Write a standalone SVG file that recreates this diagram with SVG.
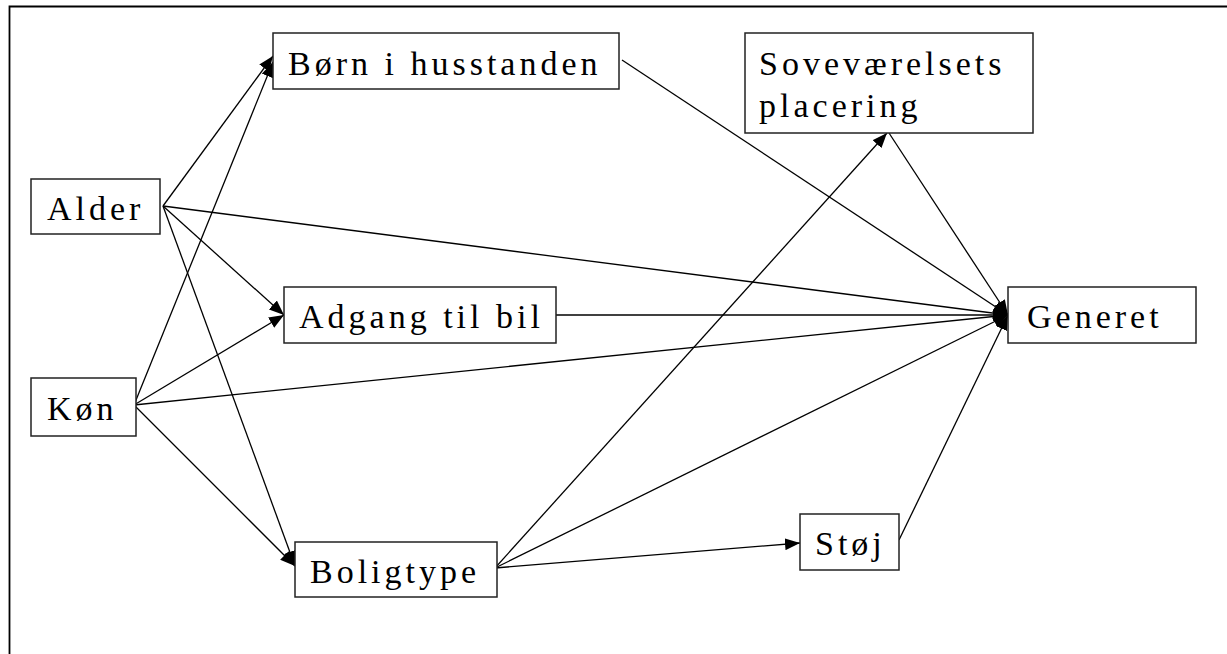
<svg xmlns="http://www.w3.org/2000/svg" width="1227" height="654" viewBox="0 0 1227 654">
<style>
.box{fill:#fff;stroke:#222;stroke-width:1.5}
.lbl{font-family:'Liberation Serif','Times New Roman',serif;font-size:34px;letter-spacing:4px;fill:#000}
.edge{stroke:#000;stroke-width:1.3;fill:none}
.arr{marker-end:url(#ah)}
</style>
<defs>
<marker id="ah" markerUnits="userSpaceOnUse" markerWidth="16" markerHeight="12" refX="15" refY="6" orient="auto">
<path d="M0,0 L15,6 L0,12 Z" fill="#000"/>
</marker>
</defs>
<rect width="1227" height="654" fill="#fff"/>
<path d="M9.5,654 V6.5 H1227" fill="none" stroke="#000" stroke-width="1.8"/>
<g id="connectors">
<line class="edge arr" x1="163" y1="206" x2="273" y2="56"/>
<line class="edge arr" x1="134" y1="405" x2="273" y2="62"/>
<line class="edge arr" x1="163" y1="206" x2="284" y2="315"/>
<line class="edge arr" x1="134" y1="405" x2="284" y2="315"/>
<line class="edge arr" x1="163" y1="206" x2="295" y2="566"/>
<line class="edge arr" x1="134" y1="405" x2="295" y2="566"/>
<line class="edge arr" x1="163" y1="206" x2="1008" y2="315"/>
<line class="edge arr" x1="134" y1="405" x2="1008" y2="315"/>
<line class="edge arr" x1="556" y1="315" x2="1008" y2="315"/>
<line class="edge arr" x1="622" y1="60" x2="1008" y2="315"/>
<line class="edge arr" x1="495" y1="568" x2="887" y2="133"/>
<line class="edge arr" x1="889" y1="133" x2="1008" y2="315"/>
<line class="edge arr" x1="495" y1="568" x2="1008" y2="315"/>
<line class="edge arr" x1="495" y1="568" x2="800" y2="543"/>
<line class="edge arr" x1="899" y1="540" x2="1008" y2="315"/>
</g>
<g id="node-born">
<rect class="box" x="273" y="33" width="346" height="56"/>
<text class="lbl" x="288" y="75">Børn i husstanden</text>
</g>
<g id="node-sovevaerelse">
<rect class="box" x="745" y="33" width="288" height="100"/>
<text class="lbl" x="759" y="75">Soveværelsets</text>
<text class="lbl" x="759" y="117">placering</text>
</g>
<g id="node-alder">
<rect class="box" x="31" y="179" width="129" height="55"/>
<text class="lbl" x="47" y="220">Alder</text>
</g>
<g id="node-adgang">
<rect class="box" x="284" y="287" width="272" height="56"/>
<text class="lbl" x="299" y="328">Adgang til bil</text>
</g>
<g id="node-generet">
<rect class="box" x="1008" y="287" width="188" height="56"/>
<text class="lbl" x="1027" y="328">Generet</text>
</g>
<g id="node-kon">
<rect class="box" x="31" y="378" width="105" height="58"/>
<text class="lbl" x="47" y="420">Køn</text>
</g>
<g id="node-boligtype">
<rect class="box" x="295" y="542" width="202" height="55"/>
<text class="lbl" x="310" y="583">Boligtype</text>
</g>
<g id="node-stoj">
<rect class="box" x="800" y="514" width="99" height="56"/>
<text class="lbl" x="815" y="555">Støj</text>
</g>
</svg>
